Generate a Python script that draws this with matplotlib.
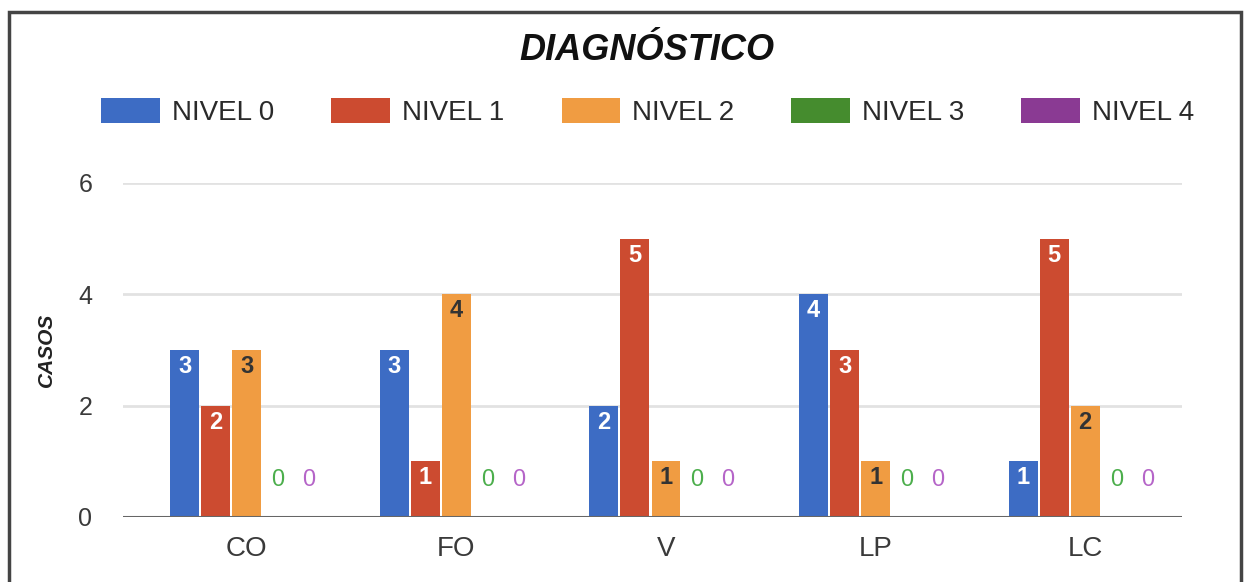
"""Grouped bar chart: DIAGNÓSTICO, cases per level and category."""

import matplotlib

matplotlib.use("Agg")
import matplotlib.pyplot as plt
import numpy as np
from matplotlib.patches import Rectangle

plt.rcParams["font.family"] = ["Liberation Sans", "DejaVu Sans"]

categories = ["CO", "FO", "V", "LP", "LC"]
levels = ["NIVEL 0", "NIVEL 1", "NIVEL 2", "NIVEL 3", "NIVEL 4"]
nivel0 = [3, 3, 2, 4, 1]
nivel1 = [2, 1, 5, 3, 5]
nivel2 = [3, 4, 1, 1, 2]
nivel3 = [0, 0, 0, 0, 0]
nivel4 = [0, 0, 0, 0, 0]
yticks = [0, 2, 4, 6]

bar_colors = ["#3d6cc4", "#cc4b30", "#f09c42", "#458c2e", "#8a3a93"]
label_colors = ["white", "white", "#333333", "#4cae4c", "#b565c8"]

series = [nivel0, nivel1, nivel2, nivel3, nivel4]

fig = plt.figure(figsize=(12.44, 5.82), dpi=100)
ax = fig.add_axes([0.0989, 0.1117, 0.851, 0.574])

x = np.arange(len(categories))
step = 0.148
width = 0.138

for i, (name, vals) in enumerate(zip(levels, series)):
    pos = x + (i - 2) * step
    ax.bar(pos, vals, width=width, color=bar_colors[i], label=name, zorder=3)
    for px, v in zip(pos, vals):
        if v > 0:
            ax.annotate(str(v), (px, v), xytext=(0, -12), textcoords="offset points",
                        ha="center", va="center", fontsize=17, fontweight="bold",
                        color=label_colors[i], zorder=4)
        else:
            ax.annotate(str(v), (px, v), xytext=(0, 26.5), textcoords="offset points",
                        ha="center", va="center", fontsize=17,
                        color=label_colors[i], zorder=4)

ax.set_xlim(-0.59, 4.46)
ax.set_ylim(0, 6)
ax.set_yticks(yticks)
ax.set_xticks(x)
ax.set_xticklabels(categories, fontsize=20, color="#3a3a3a")
ax.tick_params(axis="y", labelsize=18, colors="#3a3a3a", length=0, pad=22)
ax.tick_params(axis="x", length=0, pad=14)
ax.grid(axis="y", color="#e2e2e2", linewidth=2, zorder=0)
ax.axhline(0, color="#666666", linewidth=2.2, zorder=5)
for s in ax.spines.values():
    s.set_visible(False)

ax.set_ylabel("CASOS", fontsize=15, fontweight="bold", fontstyle="italic",
              color="#222222", labelpad=16)

fig.text(0.52, 1 - 50 / 582, "DIAGNÓSTICO", ha="center", va="center",
         fontsize=26, fontweight="bold", fontstyle="italic", color="#111111")

fig.legend(loc="center", bbox_to_anchor=(648 / 1244, 1 - 112 / 582), ncol=5,
           frameon=False, fontsize=20, handlelength=2.1, handleheight=1.0,
           handletextpad=0.45, columnspacing=2.05, labelcolor="#2a2a2a")

# outer frame of the screenshot
fig.patches.append(Rectangle((9 / 1244, -0.05), (1241 - 9) / 1244, 1.05 - 12 / 582,
                             transform=fig.transFigure, fill=False,
                             edgecolor="#444444", linewidth=2.5))

fig.savefig("out.png", dpi=100)
